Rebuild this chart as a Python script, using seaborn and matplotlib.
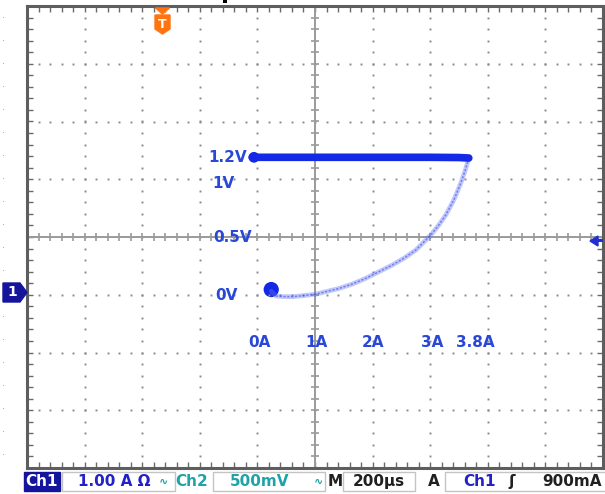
import matplotlib.pyplot as plt
import numpy as np
import seaborn as sns
from matplotlib.patches import Rectangle, Polygon

sns.set_theme(style="white")
plt.rcParams['font.family'] = ['DejaVu Sans']

# XY trace: Ch1 current (A) on x, Ch2 voltage (V) on y
top_i = [-0.09, 0.5, 1.0, 1.5, 2.0, 2.5, 3.0, 3.5, 3.67]
top_v = [1.19, 1.19, 1.19, 1.19, 1.19, 1.19, 1.19, 1.188, 1.184]
fall_i = [3.67, 3.61, 3.53, 3.41, 3.27, 3.15, 3.01, 2.75, 2.55, 2.34, 2.1, 1.88, 1.65,
          1.42, 1.02, 0.81, 0.61, 0.45, 0.32, 0.24]
fall_v = [1.184, 1.08, 0.965, 0.82, 0.69, 0.604, 0.517, 0.387, 0.318, 0.257, 0.197,
          0.142, 0.093, 0.055, 0.006, -0.007, -0.017, -0.016, -0.011, 0.03]
blob_i = [-0.06, 0.24]
blob_v = [1.19, 0.045]

# annotation labels
v_labels = ["1.2V", "1V", "0.5V", "0V"]
v_label_pos = [(-0.19, 1.19), (-0.78, 0.965), (-0.76, 0.5), (-0.74, -0.005)]
a_labels = ["0A", "1A", "2A", "3A", "3.8A"]
a_label_x = [0.03, 1.02, 2.0, 3.03, 3.78]
a_label_y = -0.41

W, H = 605, 494
fig = plt.figure(figsize=(W / 100, H / 100), dpi=100)
fig.patch.set_facecolor("white")

def fx(x):
    return x / W

def fy(y):
    return 1 - y / H

ax = fig.add_axes([fx(27), fy(468), (603 - 27) / W, (468 - 6) / H])
ax.set_xlim(-4, 6)
ax.set_ylim(-1.5, 2.5)
ax.set_facecolor("white")

grid_c = "#8c8c8c"
# dotted graticule
for gx in [-3, -2, -1, 0, 2, 3, 4, 5]:
    ys = np.arange(-1.4, 2.45, 0.1)
    ax.plot([gx] * len(ys), ys, ls="none", marker="s", ms=1.4, color=grid_c, mew=0)
for gy in [-1, -0.5, 0, 1, 1.5, 2]:
    xs = np.arange(-3.8, 5.9, 0.2)
    ax.plot(xs, [gy] * len(xs), ls="none", marker="s", ms=1.4, color=grid_c, mew=0)

# centre crosshair with ticks
ax.axhline(0.5, color="#9a9a9a", lw=1.4)
ax.axvline(1.0, color="#9a9a9a", lw=1.4)
xs = np.arange(-3.8, 5.9, 0.2)
ax.plot(xs, [0.5] * len(xs), ls="none", marker="|", ms=6, mew=1.2, color="#9a9a9a")
ys = np.arange(-1.4, 2.45, 0.1)
ax.plot([1.0] * len(ys), ys, ls="none", marker="_", ms=6, mew=1.2, color="#9a9a9a")

# border with inner ticks
for s in ax.spines.values():
    s.set_color("#5e5e5e")
    s.set_linewidth(2.2)
ax.set_xticks(np.arange(-4, 6.01, 0.2))
ax.set_yticks(np.arange(-1.5, 2.51, 0.1))
ax.tick_params(direction="in", length=4, width=1, color="#6a6a6a",
               top=True, right=True, bottom=True, left=True,
               labelbottom=False, labelleft=False)

# trace
trace_c = "#1428e6"
sns.lineplot(x=fall_i, y=fall_v, sort=False, ax=ax, color="#6676f4", lw=3.4, alpha=0.4)
sns.lineplot(x=fall_i, y=fall_v, sort=False, ax=ax, color="#3446ee", lw=1.1, alpha=0.55,
             linestyle=(0, (1.5, 1)))
sns.lineplot(x=top_i, y=top_v, sort=False, ax=ax, color=trace_c, lw=5.5)
sns.scatterplot(x=blob_i, y=blob_v, ax=ax, color=trace_c, size=[70, 120],
                sizes=(60, 120), legend=False, edgecolor="none")

lab_c = "#2a48d8"
for t, (x, y) in zip(v_labels, v_label_pos):
    ha = "right" if t == "1.2V" else "left"
    ax.text(x, y, t, color=lab_c, fontsize=11, fontweight="bold", ha=ha, va="center")
for t, x in zip(a_labels, a_label_x):
    ax.text(x, a_label_y, t, color=lab_c, fontsize=11, fontweight="bold", ha="center", va="center")

# left margin faint dots
for y in np.arange(17, 470, 23):
    fig.patches.append(Rectangle((fx(2.5), fy(y + 1)), 1.2 / W, 1.2 / H,
                                 transform=fig.transFigure, color="#b0b0b0", lw=0))

# Ch1 ground marker
fig.patches.append(Polygon([(fx(3), fy(283)), (fx(20), fy(283)), (fx(27), fy(292.5)),
                            (fx(20), fy(302)), (fx(3), fy(302))],
                           closed=True, transform=fig.transFigure, color="#14149c"))
fig.text(fx(12), fy(292.5), "1", color="white", fontsize=10, fontweight="bold",
         ha="center", va="center")

# right side arrow
fig.patches.append(Polygon([(fx(590), fy(241)), (fx(598), fy(236)), (fx(598), fy(246))],
                           closed=True, transform=fig.transFigure, color="#2030d0"))
fig.patches.append(Rectangle((fx(596), fy(242.5)), 7 / W, 3 / H,
                             transform=fig.transFigure, color="#2030d0", lw=0))

# trigger marker
org = "#ff7410"
fig.patches.append(Polygon([(fx(155.5), fy(8)), (fx(169.5), fy(8)), (fx(162.5), fy(14))],
                           closed=True, transform=fig.transFigure, color=org))
fig.patches.append(Polygon([(fx(155), fy(15)), (fx(170), fy(15)), (fx(170), fy(29)),
                            (fx(162.5), fy(34)), (fx(155), fy(29))],
                           closed=True, transform=fig.transFigure, color=org))
fig.text(fx(162.5), fy(24), "T", color="white", fontsize=9, fontweight="bold",
         ha="center", va="center")

# top cut-off mark
fig.patches.append(Rectangle((fx(223), fy(3)), 4 / W, 3 / H,
                             transform=fig.transFigure, color="black", lw=0))

# status bar
def box(x0, x1, fc="white", ec="#c4c4c4"):
    fig.patches.append(Rectangle((fx(x0), fy(491)), (x1 - x0) / W, 19 / H,
                                 transform=fig.transFigure, facecolor=fc,
                                 edgecolor=ec, lw=1))

def txt(x, s, c, ha="left", size=11):
    fig.text(fx(x), fy(481.5), s, color=c, fontsize=size, fontweight="bold",
             ha=ha, va="center")

teal = "#1fa3a8"
blue = "#2222c8"
box(24, 60, fc="#14149c", ec="#14149c")
txt(42, "Ch1", "white", ha="center")
box(62, 175)
txt(150, "1.00 A Ω", blue, ha="right")
txt(159, "∿", teal, size=8)
txt(175, "Ch2", teal)
box(213, 325)
txt(230, "500mV", teal)
txt(314, "∿", teal, size=8)
txt(328, "M", "#202020")
box(343, 415)
txt(353, "200µs", "#202020")
txt(428, "A", "#202020")
box(445, 606)
txt(463, "Ch1", blue)
txt(508, "ʃ", "#202020")
txt(602, "900mA", "#202020", ha="right")

fig.savefig("out.png", dpi=100, facecolor="white")
